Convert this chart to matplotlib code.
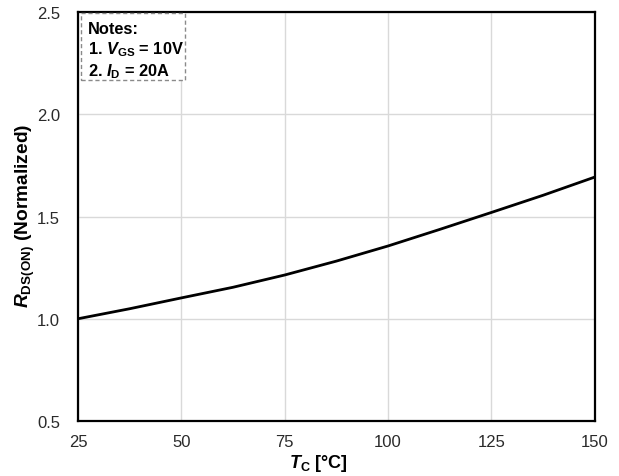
import matplotlib
matplotlib.use("Agg")
import matplotlib.pyplot as plt
from matplotlib.patches import Rectangle

# Normalized on-resistance vs. case temperature
tc = [25, 37.5, 50, 62.5, 75, 87.5, 100, 112.5, 125, 137.5, 150]
rds_norm = [1.00, 1.049, 1.102, 1.154, 1.214, 1.282, 1.356, 1.437, 1.520, 1.604, 1.693]

x_ticks = [25, 50, 75, 100, 125, 150]
y_ticks = [0.5, 1.0, 1.5, 2.0, 2.5]

plt.rcParams['font.family'] = ['Liberation Sans', 'DejaVu Sans']
plt.rcParams['mathtext.fontset'] = 'custom'
plt.rcParams['mathtext.rm'] = 'Liberation Sans'
plt.rcParams['mathtext.it'] = 'Liberation Sans:italic'
plt.rcParams['mathtext.bf'] = 'Liberation Sans:bold'
plt.rcParams['mathtext.bfit'] = 'Liberation Sans:bold:italic'

fig = plt.figure(figsize=(6.19, 4.77), dpi=100)
ax = fig.add_axes([0.126, 0.1153, 0.835, 0.8574])

ax.plot(tc, rds_norm, color='black', lw=2.0)

ax.set_xlim(25, 150)
ax.set_ylim(0.5, 2.5)
ax.set_xticks(x_ticks)
ax.set_yticks(y_ticks)
ax.set_xticklabels([str(v) for v in x_ticks])
ax.set_yticklabels([f"{v:.1f}" for v in y_ticks])
ax.tick_params(length=0, labelsize=12, colors='#2a2a2a')
ax.tick_params(axis='x', pad=9)
ax.tick_params(axis='y', pad=13)
ax.grid(True, color='#d9d9d9', lw=1.0)
ax.set_axisbelow(True)
for s in ax.spines.values():
    s.set_linewidth(1.6)
    s.set_color('black')

ax.set_xlabel(r'$\mathbfit{T}_{\mathbf{C}}$ [°C]', fontsize=13, fontweight='bold')
ax.xaxis.set_label_coords(0.465, -0.075)
ax.set_ylabel(r'$\mathbfit{R}_{\mathbf{DS(ON)}}$ (Normalized)', fontsize=13.8, fontweight='bold')
ax.yaxis.set_label_coords(-0.08, 0.505)

# Test-condition notes in a dashed frame
ax.add_patch(Rectangle((0.006, 0.834), 0.201, 0.164, transform=ax.transAxes,
                       fc='white', ec='#8a8a8a', lw=1.0, ls=(0, (3, 2)), zorder=3))
notes = ('Notes:\n'
         r'1. $\mathbfit{V}_{\mathbf{GS}}$ = 10V' '\n'
         r'2. $\mathbfit{I}_{\mathbf{D}}$ = 20A')
ax.text(0.019, 0.979, notes, transform=ax.transAxes, ha='left', va='top',
        fontsize=11.8, fontweight='bold', linespacing=1.25, zorder=4)

fig.savefig('out.png', dpi=100)
